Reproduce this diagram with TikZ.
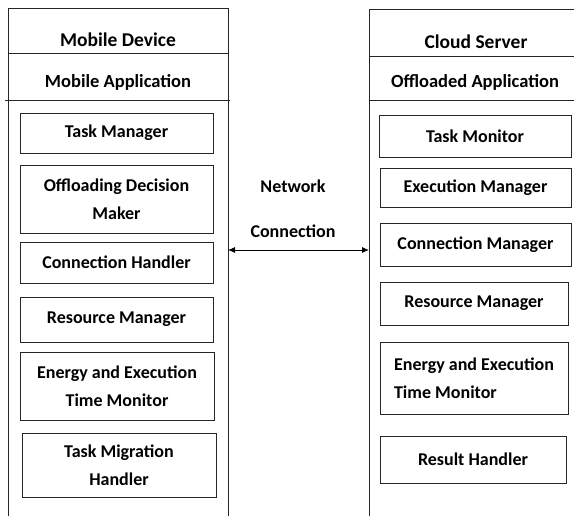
\documentclass[tikz,border=0pt]{standalone}
\usepackage{fontspec}
\setmainfont{Carlito}
\usetikzlibrary{positioning}
\usetikzlibrary{arrows.meta}

\begin{document}
\begin{tikzpicture}[
  x=1pt, y=-1pt,
  font=\fontsize{18}{28}\selectfont\bfseries,
  panel/.style={line width=0.9pt, draw=black!85},
  part/.style={draw=black!85, line width=0.9pt, inner sep=2pt, align=center},
  head/.style={inner sep=0pt, font=\fontsize{19.5}{24}\selectfont\bfseries}
]
\useasboundingbox (0,0) rectangle (574,516);

% Mobile device panel
\draw[panel] (8,516) -- (8,8) -- (228,8) -- (228,516);
\draw[panel] (8,53) -- (228,53);
\draw[panel] (5,100) -- (230,100);
\node[head] (mdev) at (118,40) {Mobile Device};
\node[head, font=\fontsize{18.5}{24}\selectfont\bfseries] (mapp) at (118,82) {Mobile Application};

% Cloud server panel
\draw[panel] (369,516) -- (369,9) -- (574,9);
\draw[panel] (369,56) -- (574,56);
\draw[panel] (369,100) -- (574,100);
\node[head] (csrv) at (476,42) {Cloud Server};
\node[head, font=\fontsize{18.5}{24}\selectfont\bfseries] (oapp) at (475,82) {Offloaded Application};

% Mobile side components
\node[part, minimum width=193pt, minimum height=40pt] (tman) at (116.5,133) {Task Manager};
\node[part, minimum width=193pt, minimum height=68pt] (odm) at (116.5,199) {Offloading Decision\\Maker};
\node[part, minimum width=193pt, minimum height=41pt] (chand) at (116.5,262.5) {Connection Handler};
\node[part, minimum width=193pt, minimum height=45pt] (rman) at (116.5,319.5) {Resource Manager};
\node[part, minimum width=194pt, minimum height=68pt] (etm) at (117,386) {Energy and Execution\\Time Monitor};
\node[part, minimum width=194pt, minimum height=64pt] (tmh) at (119,465) {Task Migration\\Handler};

% Cloud side components
\node[part, minimum width=192pt, minimum height=42pt] (tmon) at (475,136) {Task Monitor};
\node[part, minimum width=191pt, minimum height=39pt] (exman) at (475.5,187.5) {Execution Manager};
\node[part, minimum width=191pt, minimum height=43pt] (cman) at (475.5,244.5) {Connection Manager};
\node[part, minimum width=188pt, minimum height=43pt] (srman) at (474,303.5) {Resource Manager};
\node[part, minimum width=188pt, minimum height=72pt, align=left] (setm) at (474,378) {Energy and Execution\\Time Monitor};
\node[part, minimum width=186pt, minimum height=47pt] (rhand) at (473,459.5) {Result Handler};

% Network link
\coordinate (lend) at (228,250);
\coordinate (rend) at (369,250);
\draw[line width=0.9pt, {Latex[length=7pt,width=6pt]}-{Latex[length=7pt,width=6pt]}] (lend) -- (rend);
\node[head, font=\fontsize{18}{24}\selectfont\bfseries] (net) at (293,186) {Network};
\node[head, font=\fontsize{18}{24}\selectfont\bfseries] (conn) at (293,231) {Connection};
\end{tikzpicture}
\end{document}
